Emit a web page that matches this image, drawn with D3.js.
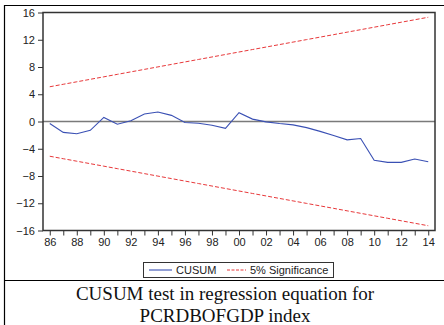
<!DOCTYPE html>
<html><head><meta charset="utf-8">
<script src="https://cdn.jsdelivr.net/npm/d3@7"></script>
<style>body{margin:0;background:#fff}svg{display:block}</style>
</head><body>
<script>
const years = [1986,1987,1988,1989,1990,1991,1992,1993,1994,1995,1996,1997,1998,1999,2000,2001,2002,2003,2004,2005,2006,2007,2008,2009,2010,2011,2012,2013,2014];
const cusum = [-0.3,-1.6,-1.8,-1.3,0.6,-0.4,0.1,1.1,1.4,0.9,-0.15,-0.25,-0.55,-1.0,1.3,0.35,-0.05,-0.3,-0.5,-0.9,-1.45,-2.05,-2.7,-2.5,-5.7,-6.0,-6.0,-5.5,-5.9];
const sigStart = 5.1, sigEnd = 15.3;
const upper = years.map((y,i)=> sigStart + (sigEnd-sigStart)*i/(years.length-1));
const lower = upper.map(v=>-v);
const yTicks = [16,12,8,4,0,-4,-8,-12,-16];
const xTickLabels = ["86","88","90","92","94","96","98","00","02","04","06","08","10","12","14"];
const legendLabels = ["CUSUM","5% Significance"];
const captionLines = ["CUSUM test in regression equation for","PCRDBOFGDP index"];

const W=444,H=325;
const svg=d3.select("body").append("svg").attr("width",W).attr("height",H);
const L=43,R=435,T=12.5,B=230.5;
const x=d3.scaleLinear().domain([1985.5,2014.5]).range([L,R]);
const y=d3.scaleLinear().domain([-16,16]).range([B,T]);

// outer table lines
svg.append("line").attr("x1",4.5).attr("x2",4.5).attr("y1",5).attr("y2",H).attr("stroke","#000").attr("stroke-width",1.2);
svg.append("line").attr("x1",4).attr("x2",W).attr("y1",5.5).attr("y2",5.5).attr("stroke","#000").attr("stroke-width",1.2);
svg.append("line").attr("x1",4).attr("x2",W).attr("y1",280.5).attr("y2",280.5).attr("stroke","#000").attr("stroke-width",1.2);

// zero line
svg.append("line").attr("x1",L).attr("x2",R).attr("y1",y(0)).attr("y2",y(0)).attr("stroke","#7a7a7a").attr("stroke-width",1.5);

const line=d3.line().x((d,i)=>x(years[i])).y(d=>y(d));
svg.append("path").datum(upper).attr("d",line).attr("fill","none").attr("stroke","#e8383a").attr("stroke-width",1).attr("stroke-dasharray","4,2");
svg.append("path").datum(lower).attr("d",line).attr("fill","none").attr("stroke","#e8383a").attr("stroke-width",1).attr("stroke-dasharray","4,2");
svg.append("path").datum(cusum).attr("d",line).attr("fill","none").attr("stroke","#3a50b4").attr("stroke-width",1.1);

// axes
const yAxis=d3.axisLeft(y).tickValues(yTicks).tickSize(5).tickPadding(3).tickFormat(d3.format("d"));
const ga=svg.append("g").attr("transform",`translate(${L},0)`).call(yAxis);
ga.select(".domain").remove();
ga.selectAll("line").attr("stroke","#333");
ga.selectAll("text").attr("font-family","Liberation Sans, Arial, sans-serif").attr("font-size",11).attr("fill","#222");

const xAxis=d3.axisBottom(x).tickValues(years).tickSize(5).tickPadding(3)
  .tickFormat(d=>{const s=String(d).slice(2);return xTickLabels.includes(s)&&(d%2===0)?s:"";});
const gx=svg.append("g").attr("transform",`translate(0,${B})`).call(xAxis);
gx.select(".domain").remove();
gx.selectAll("line").attr("stroke","#333");
gx.selectAll("text").attr("font-family","Liberation Sans, Arial, sans-serif").attr("font-size",11).attr("fill","#222");

// frame
svg.append("rect").attr("x",L).attr("y",T).attr("width",R-L).attr("height",B-T).attr("fill","none").attr("stroke","#333").attr("stroke-width",1.5);

// legend
const lg=svg.append("g");
lg.append("rect").attr("x",143.5).attr("y",262.5).attr("width",190).attr("height",15).attr("fill","#fff").attr("stroke","#333").attr("stroke-width",1);
lg.append("line").attr("x1",149).attr("x2",172).attr("y1",270).attr("y2",270).attr("stroke","#3a50b4").attr("stroke-width",1.1);
lg.append("text").attr("x",176).attr("y",274).text(legendLabels[0]).attr("font-family","Liberation Sans, Arial, sans-serif").attr("font-size",11).attr("fill","#222");
lg.append("line").attr("x1",227).attr("x2",246).attr("y1",270).attr("y2",270).attr("stroke","#e8383a").attr("stroke-width",1).attr("stroke-dasharray","3,1.5");
lg.append("text").attr("x",250).attr("y",274).text(legendLabels[1]).attr("font-family","Liberation Sans, Arial, sans-serif").attr("font-size",11).attr("fill","#222");

// caption
captionLines.forEach((t,i)=>{
  svg.append("text").attr("x",225).attr("y",300+i*21.5).attr("text-anchor","middle").text(t)
    .attr("font-family","Liberation Serif, Times New Roman, serif").attr("font-size",19).attr("fill","#111");
});
</script>
</body></html>
